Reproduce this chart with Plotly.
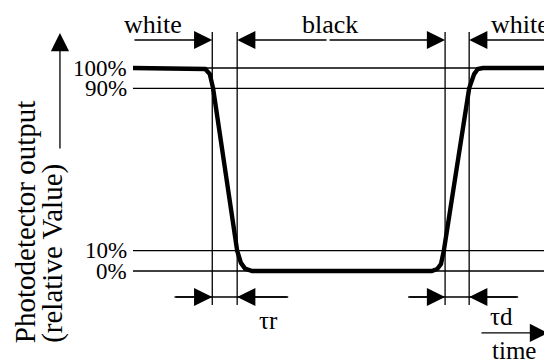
import plotly.graph_objects as go

# waveform of the photodetector (time in arbitrary units, output in % of full scale)
time = [0, 16, 17.4, 18.5, 19.3, 25.1, 26.0, 27.0, 28.7, 72.0, 73.3, 74.2, 74.9, 81.0, 82.2, 83.1, 84.3, 100]
output = [100, 100, 99.5, 97, 90, 10, 4, 1.2, 0, 0, 1, 3.4, 10, 90, 97, 99.5, 100, 100]

# reference levels
levels = [100, 90, 10, 0]
level_labels = ["100%", "90%", "10%", "0%"]

# times where the signal crosses 90% / 10%
marks = [19.1, 25.1, 75.2, 81.0]

FONT = "Liberation Serif"
LW = 1.3

fig = go.Figure()

# level lines
for lv in levels:
    fig.add_trace(go.Scatter(x=[0, 100], y=[lv, lv], mode="lines",
                             line=dict(color="black", width=LW), hoverinfo="skip"))

# vertical marker lines
for m in marks:
    fig.add_trace(go.Scatter(x=[m, m], y=[117.7, -16.7], mode="lines",
                             line=dict(color="black", width=LW), hoverinfo="skip"))

# bottom dimension lines (tr and td)
fig.add_trace(go.Scatter(x=[10, 37.4], y=[-12.8, -12.8], mode="lines",
                         line=dict(color="black", width=LW), hoverinfo="skip"))
fig.add_trace(go.Scatter(x=[66.3, 92.8], y=[-12.8, -12.8], mode="lines",
                         line=dict(color="black", width=LW), hoverinfo="skip"))

# the signal itself
fig.add_trace(go.Scatter(x=time, y=output, mode="lines",
                         line=dict(color="black", width=4.4), hoverinfo="skip"))


def arrow(x0, y0, x1, y1):
    fig.add_annotation(x=x1, y=y1, ax=x0, ay=y0, xref="x", yref="y",
                       axref="x", ayref="y", text="", showarrow=True,
                       arrowhead=2, arrowsize=2.8, arrowwidth=LW, arrowcolor="black")


# top arrows: white / black / white
arrow(0, 113.8, marks[0], 113.8)
arrow(47, 113.8, marks[1], 113.8)
arrow(47, 113.8, marks[2], 113.8)
arrow(100, 113.8, marks[3], 113.8)

# bottom arrows
arrow(10, -12.8, marks[0], -12.8)
arrow(37.4, -12.8, marks[1], -12.8)
arrow(66.3, -12.8, marks[2], -12.8)
arrow(92.8, -12.8, marks[3], -12.8)

# axis arrows
arrow(-17.6, 59.6, -17.6, 117.2)
arrow(83.6, -30.5, 100, -30.5)


def label(x, y, text, size, xanchor="center", angle=0):
    fig.add_annotation(x=x, y=y, xref="x", yref="y", text=text, showarrow=False,
                       xanchor=xanchor, yanchor="middle", textangle=angle,
                       font=dict(family=FONT, size=size, color="black"))


for lv, lab in zip(levels, level_labels):
    label(-1, lv, lab, 23, xanchor="right")

label(4.8, 121.2, "white", 26)
label(47.5, 121.2, "black", 26)
label(93.3, 121.2, "white", 26)
label(32.6, -24.6, "τr", 25)
label(88.7, -22.2, "τd", 25)
label(91.8, -39.0, "time", 25)
label(-26.0, 24.1, "Photodetector output", 29, angle=-90)
label(-19.3, 8.9, "(relative Value)", 29, angle=-90)

# page body has an 8px margin, so the figure is 8px smaller and the ranges start 8px in
fig.update_layout(
    width=544, height=352,
    margin=dict(l=0, r=0, t=0, b=0),
    paper_bgcolor="white", plot_bgcolor="white",
    showlegend=False,
    xaxis=dict(range=[-30.12, 100.96], visible=False, fixedrange=True),
    yaxis=dict(range=[-43.84, 129.56], visible=False, fixedrange=True),
)

fig.write_html("out.html")
